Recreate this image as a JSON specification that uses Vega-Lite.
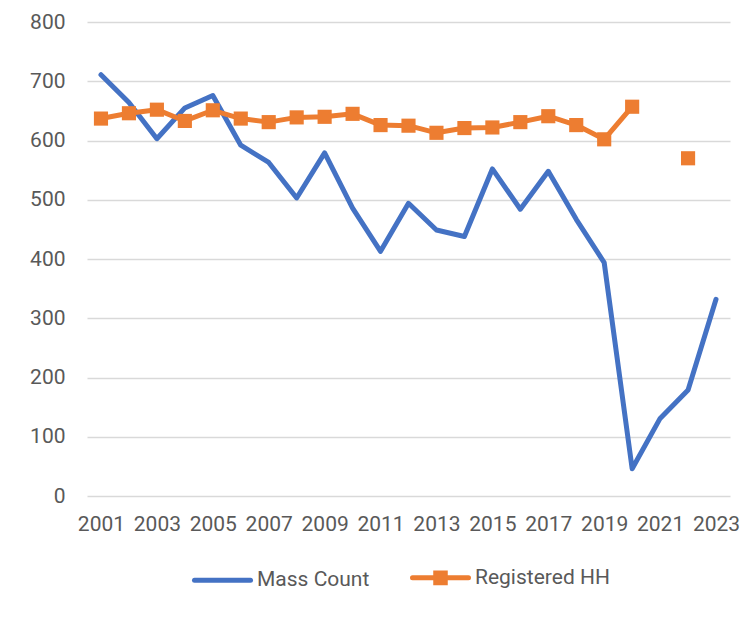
{
  "$schema": "https://vega.github.io/schema/vega-lite/v6.json",
  "autosize": "none",
  "width": 643,
  "height": 474,
  "padding": {"left": 87, "top": 22, "right": 21, "bottom": 124},
  "background": "white",
  "config": {
    "view": {"stroke": null},
    "font": "Roboto",
    "axis": {"labelFont": "Roboto", "labelFontSize": 21, "labelColor": "#595959"},
    "legend": {"labelFont": "Roboto", "labelFontSize": 21, "labelColor": "#595959"}
  },
  "data": {
    "values": [
      {"year": 2001, "series": "Mass Count", "value": 711},
      {"year": 2002, "series": "Mass Count", "value": 664},
      {"year": 2003, "series": "Mass Count", "value": 603},
      {"year": 2004, "series": "Mass Count", "value": 655},
      {"year": 2005, "series": "Mass Count", "value": 676},
      {"year": 2006, "series": "Mass Count", "value": 592},
      {"year": 2007, "series": "Mass Count", "value": 563},
      {"year": 2008, "series": "Mass Count", "value": 503},
      {"year": 2009, "series": "Mass Count", "value": 579},
      {"year": 2010, "series": "Mass Count", "value": 486},
      {"year": 2011, "series": "Mass Count", "value": 413},
      {"year": 2012, "series": "Mass Count", "value": 494},
      {"year": 2013, "series": "Mass Count", "value": 449},
      {"year": 2014, "series": "Mass Count", "value": 438},
      {"year": 2015, "series": "Mass Count", "value": 552},
      {"year": 2016, "series": "Mass Count", "value": 484},
      {"year": 2017, "series": "Mass Count", "value": 548},
      {"year": 2018, "series": "Mass Count", "value": 467},
      {"year": 2019, "series": "Mass Count", "value": 394},
      {"year": 2020, "series": "Mass Count", "value": 46},
      {"year": 2021, "series": "Mass Count", "value": 131},
      {"year": 2022, "series": "Mass Count", "value": 179},
      {"year": 2023, "series": "Mass Count", "value": 332},
      {"year": 2001, "series": "Registered HH", "value": 637},
      {"year": 2002, "series": "Registered HH", "value": 646},
      {"year": 2003, "series": "Registered HH", "value": 652},
      {"year": 2004, "series": "Registered HH", "value": 633},
      {"year": 2005, "series": "Registered HH", "value": 651},
      {"year": 2006, "series": "Registered HH", "value": 637},
      {"year": 2007, "series": "Registered HH", "value": 631},
      {"year": 2008, "series": "Registered HH", "value": 639},
      {"year": 2009, "series": "Registered HH", "value": 640},
      {"year": 2010, "series": "Registered HH", "value": 645},
      {"year": 2011, "series": "Registered HH", "value": 626},
      {"year": 2012, "series": "Registered HH", "value": 625},
      {"year": 2013, "series": "Registered HH", "value": 613},
      {"year": 2014, "series": "Registered HH", "value": 621},
      {"year": 2015, "series": "Registered HH", "value": 622},
      {"year": 2016, "series": "Registered HH", "value": 631},
      {"year": 2017, "series": "Registered HH", "value": 641},
      {"year": 2018, "series": "Registered HH", "value": 626},
      {"year": 2019, "series": "Registered HH", "value": 602},
      {"year": 2020, "series": "Registered HH", "value": 657},
      {"year": 2021, "series": "Registered HH", "value": null},
      {"year": 2022, "series": "Registered HH", "value": 570},
      {"year": 2023, "series": "Registered HH", "value": null}
    ]
  },
  "encoding": {
    "x": {
      "field": "year",
      "type": "quantitative",
      "scale": {"domain": [2000.5, 2023.5], "nice": false, "zero": false},
      "axis": {
        "title": null,
        "values": [2001, 2003, 2005, 2007, 2009, 2011, 2013, 2015, 2017, 2019, 2021, 2023],
        "format": "d",
        "grid": false,
        "domain": false,
        "ticks": false,
        "labelPadding": 17,
        "labelFlush": false,
        "labelOverlap": false
      }
    },
    "y": {
      "field": "value",
      "type": "quantitative",
      "scale": {"domain": [0, 800], "nice": false},
      "axis": {
        "title": null,
        "values": [0, 100, 200, 300, 400, 500, 600, 700, 800],
        "grid": true,
        "gridColor": "#D9D9D9",
        "gridWidth": 1.5,
        "domain": false,
        "ticks": false,
        "labelPadding": 22
      }
    }
  },
  "layer": [
    {
      "mark": {"type": "line", "strokeWidth": 5, "strokeCap": "round", "strokeJoin": "round", "invalid": "break-paths-show-domains"},
      "encoding": {
        "color": {
          "field": "series",
          "type": "nominal",
          "scale": {"domain": ["Mass Count", "Registered HH"], "range": ["#4472C4", "#ED7D31"]},
          "legend": {
            "title": null,
            "orient": "none",
            "direction": "horizontal",
            "legendX": 105,
            "legendY": 525,
            "symbolSize": 3136,
            "symbolStrokeWidth": 5,
            "symbolType": "M-1,0H1",
            "labelOffset": 4,
            "columnPadding": 32,
            "encode": {
              "symbols": {
                "update": {
                  "shape": {"signal": "datum.value === 'Mass Count' ? 'M-1,0H1' : 'M-1,0H1M-0.17,-0.17H0.17V0.17H-0.17Z'"},
                  "fill": {"signal": "datum.value === 'Mass Count' ? 'transparent' : '#ED7D31'"},
                  "strokeCap": {"value": "round"}
                }
              }
            }
          }
        }
      }
    },
    {
      "transform": [{"filter": "datum.series === 'Registered HH' && isValid(datum.value)"}],
      "mark": {"type": "point", "shape": "square", "filled": true, "size": 200, "opacity": 1, "color": "#ED7D31"},
      "encoding": {}
    }
  ]
}
